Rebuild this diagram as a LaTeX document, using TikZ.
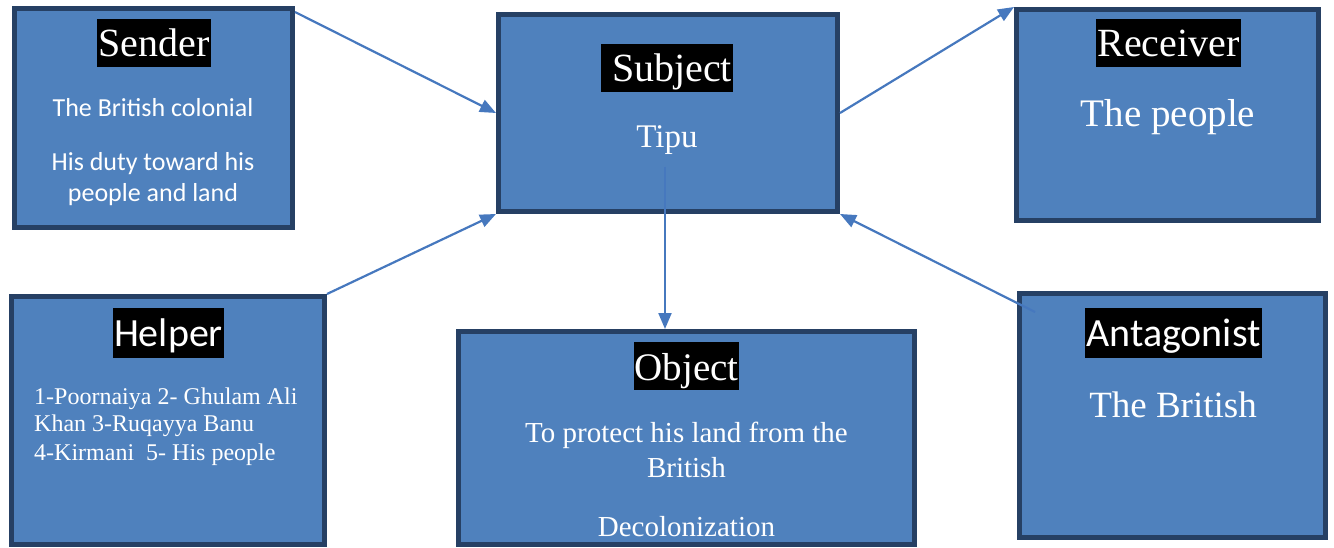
\documentclass[tikz,border=0pt]{standalone}
\usepackage{fontspec}
\setmainfont{Liberation Serif}
\newfontfamily\calfont{Carlito}
\usetikzlibrary{arrows.meta}
\definecolor{boxfill}{RGB}{79,129,189}
\definecolor{boxline}{RGB}{38,64,100}
\definecolor{arrowblue}{RGB}{70,120,190}
\tikzset{
  actbox/.style={draw=boxline, fill=boxfill, line width=5pt, rectangle, inner sep=0pt},
  lbl/.style={fill=black, text=white, inner xsep=1pt, inner ysep=0pt, text height=38pt, text depth=10pt, anchor=base},
  body/.style={text=white, inner sep=0pt, anchor=base},
  conn/.style={draw=arrowblue, line width=2.2pt, -{Triangle[length=16pt,width=13pt]}}
}
\newcommand{\fsz}[1]{\fontsize{#1}{#1}\selectfont}
\begin{document}
\begin{tikzpicture}[x=1pt,y=-1pt]
\useasboundingbox (0,0) rectangle (1334,548);
% boxes
\node[actbox, minimum width=278pt, minimum height=219pt] (sender) at (153.5,118) {};
\node[actbox, minimum width=339pt, minimum height=197pt] (subject) at (668,113) {};
\node[actbox, minimum width=302pt, minimum height=211pt] (receiver) at (1167.5,115) {};
\node[actbox, minimum width=313pt, minimum height=248pt] (helper) at (168,420.5) {};
\node[actbox, minimum width=456pt, minimum height=213pt] (object) at (686.5,438) {};
\node[actbox, minimum width=306pt, minimum height=244pt] (antagonist) at (1172.5,415.5) {};
% labels
\node[lbl, font=\fsz{40}] (senderlbl) at (154,57) {Sender};
\node[lbl, font=\fsz{40}] (subjectlbl) at (667,82) {\hspace{10pt}Subject};
\node[lbl, font=\fsz{40}] (receiverlbl) at (1168.5,57) {Receiver};
\node[lbl, font=\calfont\fsz{40}, text depth=12pt] (helperlbl) at (168.5,346) {Helper};
\node[lbl, font=\fsz{39}] (objectlbl) at (686.5,380) {Object};
\node[lbl, font=\calfont\fsz{40}, text depth=12pt] (antagonistlbl) at (1173.5,346) {Antagonist};
% body texts
\node[body, font=\calfont\fsz{26}] (s1) at (153,117) {The British colonial};
\node[body, font=\calfont\fsz{26}] (s2) at (153,171) {His duty toward his};
\node[body, font=\calfont\fsz{26}] (s3) at (153,202) {people and land};
\node[body, font=\fsz{33}] (tipu) at (667,148) {Tipu};
\node[body, font=\fsz{39}] (rtext) at (1168,127) {The people};
\node[body, font=\fsz{24}, anchor=base west] (h1) at (34,404) {1-Poornaiya 2- Ghulam Ali};
\node[body, font=\fsz{24}, anchor=base west] (h2) at (34,431) {Khan 3-Ruqayya Banu};
\node[body, font=\fsz{24}, anchor=base west] (h3) at (34,460) {4-Kirmani \ 5- His people};
\node[body, font=\fsz{29}] (o1) at (686.5,442) {To protect his land from the};
\node[body, font=\fsz{29}] (o2) at (686.5,477) {British};
\node[body, font=\fsz{29}] (o3) at (686.5,536) {Decolonization};
\node[body, font=\fsz{37}] (atext) at (1173,417) {The British};
% connectors
\coordinate (s2o) at (665,167);
\draw[conn] ([yshift=-6pt]sender.north east) -- (subject.west);
\draw[conn] (helper.north east) -- (subject.south west);
\draw[conn] (subject.east) -- (receiver.north west);
\draw[conn] (s2o) -- (s2o |- object.north);
\draw[conn] ([xshift=18pt,yshift=-21pt]antagonist.north west) -- (subject.south east);
\end{tikzpicture}
\end{document}
